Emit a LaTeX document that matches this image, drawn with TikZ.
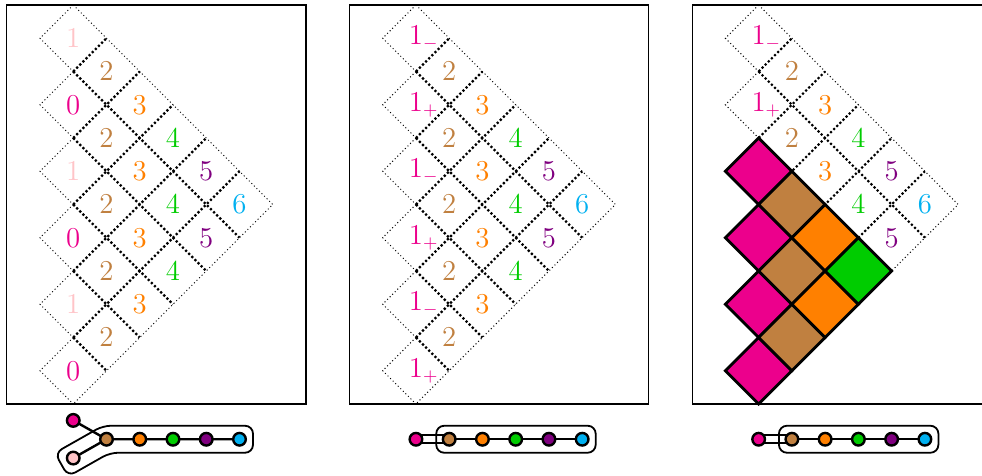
\documentclass[tikz,border=0pt]{standalone}
\usepackage{amsmath}
\usetikzlibrary{backgrounds}
\definecolor{cmag}{RGB}{236,0,140}
\definecolor{cpink}{RGB}{255,196,200}
\definecolor{cbrown}{RGB}{192,128,64}
\definecolor{corange}{RGB}{255,128,0}
\definecolor{cgreen}{RGB}{0,204,0}
\definecolor{cpurple}{RGB}{128,0,128}
\definecolor{ccyan}{RGB}{0,176,240}

\begin{document}
\begin{tikzpicture}[x=16.625pt,y=16.625pt,line width=.35pt,font=\fontsize{13.5}{16}\selectfont,
  edgeout/.style={line width=.5pt,dash pattern=on .5pt off 1.3pt},
  edgein/.style={line width=1.1pt,dash pattern=on 1.1pt off 1.1pt},
  lab/.style={inner sep=0pt},
  cell/.style={draw,line width=1.4pt},
  vtx/.style={circle,draw,line width=1.2pt,minimum size=6.3pt,inner sep=0pt},
  bond/.style={line width=1.2pt},
  hull/.style={line width=.9pt,rounded corners=4pt}]
\useasboundingbox (0,0) rectangle (29.534,-14.286);
\foreach \p/\s in {1/2.203,2/12.51,3/22.817}{
\begin{scope}[shift={(\s,-.15)}]
\draw[line width=.6pt] (-2,0) rectangle (7,-12);
\draw[edgeout] (0,0)--(6,-6)--(0,-12);
\foreach \j in {0,...,5}{\draw[edgeout] (0,{-2*\j})--(-1,{-2*\j-1})--(0,{-2*\j-2});}
\foreach \m in {1,...,5}{\draw[edgein] (0,{-2*\m})--({6-\m},{-6-\m}) (0,{-2*\m})--(\m,-\m);}
\foreach \k/\t/\c in {1/2/cbrown,2/3/corange,3/4/cgreen,4/5/cpurple,5/6/ccyan}{
  \pgfmathtruncatemacro\n{\p==3 ? min(1,5-\k) : 5-\k}
  \foreach \j in {0,...,\n}{\node[lab,text=\c] (t\p\k\j) at (\k,{-1-\k-2*\j}) {$\t$};}}
\end{scope}}
\foreach \j/\t/\c in {0/1/cpink,1/0/cmag,2/1/cpink,3/0/cmag,4/1/cpink,5/0/cmag}{\node[lab,text=\c] (t10\j) at (2.203,{-1.15-2*\j}) {$\t$};}
\foreach \j/\t in {0/-,1/+,2/-,3/+,4/-,5/+}{\node[lab,text=cmag] (t20\j) at (12.51,{-1.15-2*\j}) {$1\rlap{$_\t$}$};}
\foreach \j/\t in {0/-,1/+}{\node[lab,text=cmag] (t30\j) at (22.817,{-1.15-2*\j}) {$1\rlap{$_\t$}$};}

\begin{scope}[shift={(22.817,-.15)}]
\foreach \k/\c in {0/cmag,1/cbrown,2/corange,3/cgreen}{
  \pgfmathtruncatemacro\n{5-\k}
  \foreach \j in {2,...,\n}{\filldraw[cell,fill=\c] (\k,{-\k-2*\j})--++(1,-1)--++(-1,-1)--++(-1,1)--cycle;}}
\end{scope}

\begin{scope}[shift={(2.203,-.15)}]
\node[vtx,fill=cmag] (v10) at (0,-12.494) {};
\node[vtx,fill=cpink] (v1q) at (0,-13.626) {};
\foreach \k/\c in {1/cbrown,2/corange,3/cgreen,4/cpurple,5/ccyan}{\node[vtx,fill=\c] (v1\k) at (\k,-13.06) {};}
\begin{pgfonlayer}{background}
\draw[bond] (v10.center)--(v11.center) (v1q.center)--(v11.center) (v11.center)--(v15.center);
\end{pgfonlayer}
\draw[hull] (5.406,-12.654)--(.894,-12.654)--(-.553,-13.473)--(-.153,-14.179)--(1.106,-13.466)--(5.406,-13.466)--cycle;
\end{scope}

\foreach \p/\s in {2/12.51,3/22.817}{
\begin{scope}[shift={(\s,-.15)}]
\node[vtx,fill=cmag] (v\p0) at (0,-13.06) {};
\foreach \k/\c in {1/cbrown,2/corange,3/cgreen,4/cpurple,5/ccyan}{\node[vtx,fill=\c] (v\p\k) at (\k,-13.06) {};}
\begin{pgfonlayer}{background}
\draw[bond,line width=1pt,double,double distance=3pt] (v\p0.center)--(v\p1.center);
\draw[bond] (v\p1.center)--(v\p5.center);
\end{pgfonlayer}
\draw[hull] (.61,-12.654) rectangle (5.406,-13.466);
\end{scope}}
\end{tikzpicture}
\end{document}
